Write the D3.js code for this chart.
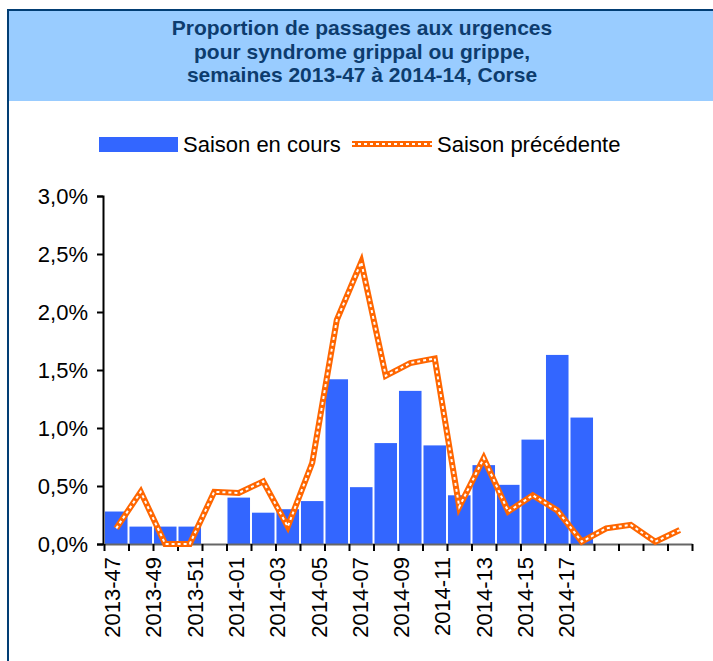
<!DOCTYPE html>
<html>
<head>
<meta charset="utf-8">
<script src="https://cdn.jsdelivr.net/npm/d3@7"></script>
<style>
    body { margin: 0; background: #ffffff; }
    svg text { font-family: "Liberation Sans", Arial, sans-serif; }
</style>
</head>
<body>
<div id="chart"></div>
<script>
// Weeks on the x axis
var weeks = ["2013-47", "2013-48", "2013-49", "2013-50", "2013-51", "2013-52",
    "2014-01", "2014-02", "2014-03", "2014-04", "2014-05", "2014-06",
    "2014-07", "2014-08", "2014-09", "2014-10", "2014-11", "2014-12",
    "2014-13", "2014-14", "2014-15", "2014-16", "2014-17", "2014-18"];

// Saison en cours (bars), in %
var currentSeason = [0.28, 0.15, 0.15, 0.15, null, 0.40, 0.27, 0.30, 0.37, 1.42,
    0.49, 0.87, 1.32, 0.85, 0.42, 0.68, 0.51, 0.90, 1.63, 1.09];

// Saison precedente (line), in %
var previousSeason = [0.135, 0.45, 0.0, 0.0, 0.45, 0.44, 0.54, 0.15, 0.70, 1.93,
    2.43, 1.45, 1.56, 1.60, 0.32, 0.74, 0.28, 0.42, 0.29, 0.02,
    0.135, 0.165, 0.02, 0.12];

// Labels shown under the x axis
var weekLabels = ["2013-47", "2013-49", "2013-51", "2014-01", "2014-03", "2014-05",
    "2014-07", "2014-09", "2014-11", "2014-13", "2014-15", "2014-17"];

var yTicks = [0, 0.5, 1, 1.5, 2, 2.5, 3];

var titleLines = ["Proportion de passages aux urgences",
    "pour syndrome grippal ou grippe,",
    "semaines 2013-47 à 2014-14, Corse"];

var width = 713, height = 661;
var blue = "#3366ff", orange = "#ff6600", navy = "#023e74";

var svg = d3.select("#chart")
    .append("svg")
    .attr("width", width)
    .attr("height", height);

// Title box
svg.append("rect")
    .attr("x", 8).attr("y", 10)
    .attr("width", width - 8).attr("height", 91)
    .attr("fill", "#99ccff");

svg.append("line")
    .attr("x1", 7).attr("x2", width)
    .attr("y1", 10).attr("y2", 10)
    .attr("stroke", navy).attr("stroke-width", 2);

svg.append("line")
    .attr("x1", 8).attr("x2", 8)
    .attr("y1", 9).attr("y2", height)
    .attr("stroke", navy).attr("stroke-width", 2);

svg.selectAll(".title")
    .data(titleLines)
    .enter().append("text")
    .attr("class", "title")
    .attr("x", 362)
    .attr("y", function(d, i) { return 35 + i * 23.5; })
    .attr("text-anchor", "middle")
    .attr("font-size", "21px")
    .attr("font-weight", "bold")
    .attr("fill", "#0d3c6e")
    .text(function(d) { return d; });

// Scales
var x = d3.scaleBand().domain(weeks).range([104, 692]);
var xBar = d3.scaleBand().domain(weeks).range([104, 692])
    .paddingInner(0.08).paddingOuter(0.04);
var y = d3.scaleLinear().domain([0, 3]).range([544, 196]);
var xLabel = d3.scalePoint().domain(weekLabels).range([112, 566]);

// Bars for the current season
var barData = currentSeason.map(function(v, i) { return { week: weeks[i], value: v }; })
    .filter(function(d) { return d.value != null; });

svg.selectAll(".bar")
    .data(barData)
    .enter().append("rect")
    .attr("class", "bar")
    .attr("x", function(d) { return xBar(d.week); })
    .attr("width", xBar.bandwidth())
    .attr("y", function(d) { return y(d.value); })
    .attr("height", function(d) { return y(0) - y(d.value); })
    .attr("fill", blue);

// Y axis
var yAxis = svg.append("g")
    .attr("transform", "translate(103,0)")
    .call(d3.axisLeft(y).tickValues(yTicks).tickSize(6).tickPadding(9)
        .tickFormat(function(d) { return d3.format(".1f")(d).replace(".", ",") + "%"; }));
yAxis.select(".domain").attr("stroke", "#000").attr("stroke-width", 2);
yAxis.selectAll(".tick line").attr("stroke", "#000").attr("stroke-width", 2);
yAxis.selectAll("text").attr("font-size", "22px").attr("fill", "#000")
    .attr("font-family", "Liberation Sans, Arial, sans-serif");

// X axis tick marks at category boundaries
var xIndex = d3.scaleLinear().domain([0, weeks.length]).range([104, 692]);
var xAxis = svg.append("g")
    .attr("transform", "translate(0,544)")
    .call(d3.axisBottom(xIndex).tickValues(d3.range(weeks.length + 1))
        .tickSize(7).tickSizeOuter(0).tickFormat(""));
xAxis.select(".domain").attr("stroke", "#666").attr("stroke-width", 2);
xAxis.selectAll(".tick line").attr("stroke", "#000").attr("stroke-width", 2);

// X axis labels, rotated
var labelAxis = svg.append("g")
    .attr("transform", "translate(0,544)")
    .call(d3.axisBottom(xLabel).tickSize(0).tickPadding(0));
labelAxis.select(".domain").remove();
labelAxis.selectAll("text")
    .attr("font-size", "22px")
    .attr("fill", "#000")
    .attr("font-family", "Liberation Sans, Arial, sans-serif")
    .style("text-anchor", "end")
    .attr("dx", "-13px")
    .attr("dy", "0.35em")
    .attr("transform", "rotate(-90)");

// Line for the previous season
var line = d3.line()
    .x(function(d, i) { return x(weeks[i]) + x.bandwidth() / 2; })
    .y(function(d) { return y(d); });

svg.append("path")
    .datum(previousSeason)
    .attr("d", line)
    .attr("fill", "none")
    .attr("stroke", orange)
    .attr("stroke-width", 6);

svg.append("path")
    .datum(previousSeason)
    .attr("d", line)
    .attr("fill", "none")
    .attr("stroke", "#fff")
    .attr("stroke-width", 2)
    .attr("stroke-dasharray", "3,3");

// Legend
var legend = svg.append("g");
legend.append("rect")
    .attr("x", 99).attr("y", 137)
    .attr("width", 79).attr("height", 15)
    .attr("fill", blue);
legend.append("text")
    .attr("x", 183).attr("y", 152)
    .attr("font-size", "22px")
    .text("Saison en cours");
legend.append("line")
    .attr("x1", 352).attr("x2", 432)
    .attr("y1", 144).attr("y2", 144)
    .attr("stroke", orange).attr("stroke-width", 6);
legend.append("line")
    .attr("x1", 352).attr("x2", 432)
    .attr("y1", 144).attr("y2", 144)
    .attr("stroke", "#fff").attr("stroke-width", 2)
    .attr("stroke-dasharray", "3,3");
legend.append("text")
    .attr("x", 437).attr("y", 152)
    .attr("font-size", "22px")
    .text("Saison précédente");
</script>
</body>
</html>
